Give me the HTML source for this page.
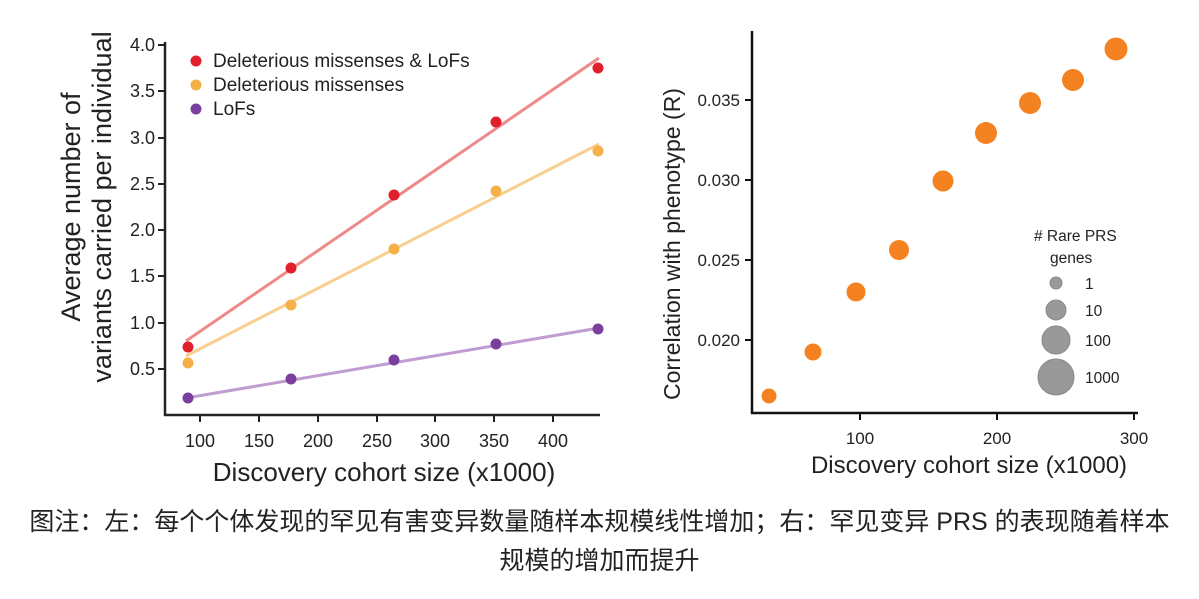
<!DOCTYPE html>
<html><head><meta charset="utf-8"><style>
body{margin:0;background:#fff;width:1199px;height:599px;overflow:hidden}
svg text{font-family:"Liberation Sans",sans-serif;fill:#222}
.cap{position:absolute;left:0;width:1199px;text-align:center;font-family:"Liberation Sans","Noto Sans CJK SC",sans-serif;font-size:25px;color:#222}
</style></head><body>
<svg width="1199" height="599" style="position:absolute;left:0;top:0">
<g stroke="#222" stroke-width="2.5" fill="none">
<line x1="165" y1="42" x2="165" y2="416"/><line x1="164" y1="415" x2="600" y2="415"/>
</g>
<g stroke="#222" stroke-width="2">
<line x1="158" y1="45" x2="165" y2="45"/><line x1="158" y1="91" x2="165" y2="91"/><line x1="158" y1="138" x2="165" y2="138"/><line x1="158" y1="184" x2="165" y2="184"/><line x1="158" y1="230" x2="165" y2="230"/><line x1="158" y1="276" x2="165" y2="276"/><line x1="158" y1="323" x2="165" y2="323"/><line x1="158" y1="369" x2="165" y2="369"/>
<line x1="200" y1="415" x2="200" y2="422"/><line x1="259" y1="415" x2="259" y2="422"/><line x1="318" y1="415" x2="318" y2="422"/><line x1="377" y1="415" x2="377" y2="422"/><line x1="435" y1="415" x2="435" y2="422"/><line x1="494" y1="415" x2="494" y2="422"/><line x1="553" y1="415" x2="553" y2="422"/>
</g>
<g font-size="18" text-anchor="end">
<text x="155" y="51">4.0</text><text x="155" y="97">3.5</text><text x="155" y="144">3.0</text><text x="155" y="190">2.5</text><text x="155" y="236">2.0</text><text x="155" y="282">1.5</text><text x="155" y="329">1.0</text><text x="155" y="375">0.5</text>
</g>
<g font-size="18" text-anchor="middle">
<text x="200" y="447">100</text><text x="259" y="447">150</text><text x="318" y="447">200</text><text x="377" y="447">250</text><text x="435" y="447">300</text><text x="494" y="447">350</text><text x="553" y="447">400</text>
</g>
<text x="384" y="481" font-size="26" text-anchor="middle">Discovery cohort size (x1000)</text>
<text transform="translate(80,207) rotate(-90)" font-size="27" text-anchor="middle">Average number of</text>
<text transform="translate(111,207) rotate(-90)" font-size="27" text-anchor="middle">variants carried per individual</text>
<line x1="186" y1="341" x2="599" y2="58" stroke="#ef8a8a" stroke-width="3"/>
<line x1="186" y1="356" x2="599" y2="144" stroke="#f7d08f" stroke-width="3"/>
<line x1="186" y1="398" x2="599" y2="328" stroke="#bf9dd2" stroke-width="3"/>
<g fill="#e0202a"><circle cx="188" cy="347" r="5.5"/><circle cx="291" cy="268" r="5.5"/><circle cx="394" cy="195" r="5.5"/><circle cx="496" cy="122" r="5.5"/><circle cx="598" cy="68" r="5.5"/></g>
<g fill="#f5b048"><circle cx="188" cy="363" r="5.5"/><circle cx="291" cy="305" r="5.5"/><circle cx="394" cy="249" r="5.5"/><circle cx="496" cy="191" r="5.5"/><circle cx="598" cy="151" r="5.5"/></g>
<g fill="#7b3f9e"><circle cx="188" cy="398" r="5.5"/><circle cx="291" cy="379" r="5.5"/><circle cx="394" cy="360" r="5.5"/><circle cx="496" cy="344" r="5.5"/><circle cx="598" cy="329" r="5.5"/></g>
<circle cx="196" cy="61" r="5.5" fill="#e0202a"/><circle cx="196" cy="85" r="5.5" fill="#f5b048"/><circle cx="196" cy="109" r="5.5" fill="#7b3f9e"/>
<g font-size="19"><text x="213" y="67">Deleterious missenses &amp; LoFs</text><text x="213" y="91">Deleterious missenses</text><text x="213" y="115">LoFs</text></g>
<g stroke="#111" stroke-width="2.5" fill="none">
<line x1="752" y1="31" x2="752" y2="414"/><line x1="751" y1="413" x2="1138" y2="413"/>
</g>
<g stroke="#111" stroke-width="2">
<line x1="745" y1="100" x2="752" y2="100"/><line x1="745" y1="180" x2="752" y2="180"/><line x1="745" y1="260" x2="752" y2="260"/><line x1="745" y1="340" x2="752" y2="340"/>
<line x1="860" y1="413" x2="860" y2="420"/><line x1="997" y1="413" x2="997" y2="420"/><line x1="1134" y1="413" x2="1134" y2="420"/>
</g>
<g font-size="17" text-anchor="end" fill="#222"><text x="740" y="106">0.035</text><text x="740" y="186">0.030</text><text x="740" y="266">0.025</text><text x="740" y="346">0.020</text></g>
<g font-size="17" text-anchor="middle"><text x="860" y="444">100</text><text x="997" y="444">200</text><text x="1134" y="444">300</text></g>
<text x="969" y="473" font-size="24" text-anchor="middle">Discovery cohort size (x1000)</text>
<text transform="translate(680,244) rotate(-90)" font-size="23" text-anchor="middle">Correlation with phenotype (R)</text>
<g fill="#f48221"><circle cx="769" cy="396" r="7.5"/><circle cx="813" cy="352" r="8.5"/><circle cx="856" cy="292" r="9.5"/><circle cx="899" cy="250" r="10"/><circle cx="943" cy="181" r="10.5"/><circle cx="986" cy="133" r="11"/><circle cx="1030" cy="103" r="11"/><circle cx="1073" cy="80" r="11"/><circle cx="1116" cy="49" r="11.5"/></g>
<g fill="#999" stroke="#888" stroke-width="1"><circle cx="1056" cy="283" r="6"/><circle cx="1056" cy="310" r="10"/><circle cx="1056" cy="340" r="14"/><circle cx="1056" cy="377" r="18"/></g>
<g font-size="15.5"><text x="1034" y="241">#&#160;Rare PRS</text><text x="1050" y="263">genes</text><text x="1085" y="289">1</text><text x="1085" y="316">10</text><text x="1085" y="346">100</text><text x="1085" y="383">1000</text></g>
</svg>
<div class="cap" style="top:502px">图注：左：每个个体发现的罕见有害变异数量随样本规模线性增加；右：罕见变异 PRS 的表现随着样本</div>
<div class="cap" style="top:541px">规模的增加而提升</div>
</body></html>
